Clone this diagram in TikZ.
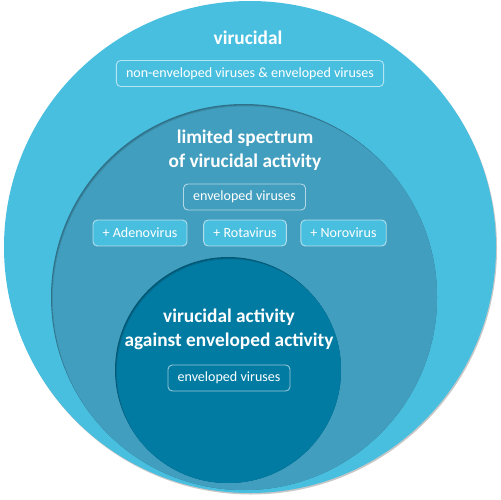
\documentclass[tikz,border=0pt]{standalone}
\usepackage{fontspec}
\setmainfont{Carlito}
\usepackage{xcolor}

\definecolor{outerblue}{RGB}{73,191,224}
\definecolor{midblue}{RGB}{66,158,190}
\definecolor{innerblue}{RGB}{2,123,163}

\begin{document}
\begin{tikzpicture}[x=0.02cm, y=-0.02cm,
  title/.style={text=white, font=\bfseries\fontsize{11}{13.7}\selectfont, align=center},
  tag/.style={draw=white, draw opacity=0.6, rounded corners=2.5pt, line width=0.5pt,
    text=white, font=\fontsize{8}{10}\selectfont, minimum height=0.52cm,
    inner xsep=5.5pt, inner ysep=0pt}]

\useasboundingbox (0,0) rectangle (500,500);

% outer circle with shadow
\fill[black!22] (251,248.5) circle (246);
\fill[outerblue] (250,247) circle (246);

% middle circle
\fill[black!28!midblue] (244,297) circle (193);
\begin{scope}
\clip (244,297) circle (193);
\fill[black!12!midblue] (245,298.3) circle (193);
\fill[midblue] (245.8,299.3) circle (193);
\end{scope}

% inner circle
\fill[black!28!innerblue] (228,370) circle (113);
\begin{scope}
\clip (228,370) circle (113);
\fill[black!12!innerblue] (229,371.3) circle (113);
\fill[innerblue] (229.8,372.3) circle (113);
\end{scope}

% labels
\node[title] (toptitle) at (248,38) {virucidal};
\node[tag, fill=outerblue] (alltag) at (250,73.5) {non-enveloped viruses \& enveloped viruses};

\node[title] (midtitle) at (245,150) {limited spectrum\\of virucidal activity};
\node[tag, fill=midblue] (envtag) at (244.5,197) {enveloped viruses};
\node[tag, fill=outerblue] (adeno) at (140,233) {+ Adenovirus};
\node[tag, fill=outerblue] (rota) at (245,233) {+ Rotavirus};
\node[tag, fill=outerblue] (noro) at (343.5,233) {+ Norovirus};

\node[title] (intitle) at (229,329) {virucidal activity\\against enveloped activity};
\node[tag, fill=innerblue] (intag) at (229,378) {enveloped viruses};

\end{tikzpicture}
\end{document}
